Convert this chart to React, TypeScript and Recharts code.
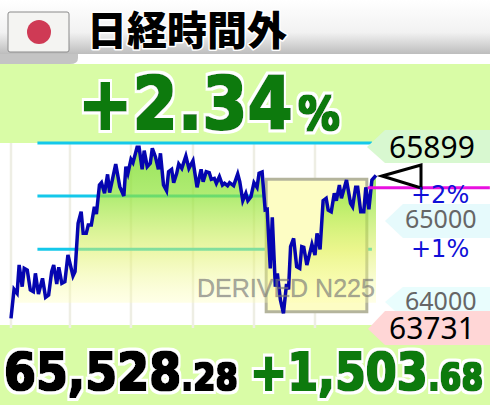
import { ComposedChart, Area, XAxis, YAxis, ReferenceLine, ReferenceArea } from 'recharts';

const minutes = [
  0, 3, 6, 8, 11, 13, 16, 19, 22, 24, 27, 31, 34, 37, 40, 42, 45, 47, 50, 53, 56, 58, 61, 63, 66, 69, 71, 74, 76, 79,
  82, 84, 87, 89, 92, 95, 97, 100, 103, 107, 111, 113, 115, 118, 120, 124, 126, 129, 131, 134, 137, 139, 142, 145, 147, 150, 153, 155, 158, 160,
  163, 165, 168, 172, 175, 179, 183, 187, 189, 192, 195, 197, 200, 202, 205, 208, 210, 213, 215, 219, 223, 225, 228, 231, 233, 236, 239, 242, 244, 247,
  250, 252, 255, 257, 260, 262, 265, 268, 271, 273, 275, 278, 281, 284, 286, 288, 291, 296, 299, 301, 304, 307, 310, 312, 315, 318, 320, 323, 325, 330,
  334, 336, 339, 341, 344, 347, 349, 352, 355, 359,
];
const prices = [
  63840, 64188, 64140, 64480, 64220, 64440, 64420, 64180, 64160, 64380, 64132, 64320, 64092, 64120, 64400, 64480, 64252, 64452, 64260, 64280, 64600, 64500, 64348, 64400, 64980, 65120, 64860, 64860, 64960, 64960,
  65180, 65092, 65440, 65468, 65340, 65568, 65348, 65520, 65692, 65420, 65308, 65660, 65580, 65748, 65708, 65892, 65892, 65628, 65852, 65660, 65700, 65880, 65780, 65628, 65820, 65440, 65372, 65600, 65628, 65468,
  65580, 65692, 65640, 65788, 65640, 65732, 65412, 65628, 65480, 65600, 65588, 65508, 65520, 65460, 65540, 65440, 65460, 65432, 65468, 65432, 65572, 65480, 65252, 65340, 65252, 65300, 65468, 65412, 65580, 65596,
  65140, 65148, 64440, 65052, 64220, 64380, 64060, 63900, 64252, 64188, 64700, 64800, 64460, 64440, 64700, 64692, 64480, 64728, 64600, 64860, 64668, 65252, 65280, 65140, 65120, 65340, 65252, 65440, 65280, 65500,
  65220, 65180, 65412, 65412, 65120, 65120, 65412, 65148, 65500, 65556,
];
const percentLevels = [65944, 65308, 64668];
const prevClose = 64028;
const currentLevel = 65408;
const gridMinutes = [0, 58, 118, 179, 239, 299];
const highlight = { x1: 251, x2: 350, y1: 65508, y2: 63920 };

const rows = minutes.map((m, i) => ({ m, price: prices[i] }));

const outline = { paintOrder: 'stroke', stroke: '#fff', strokeLinejoin: 'round' } as const;
const labelFont = '"Noto Sans", sans-serif';
const plainFont = '"DejaVu Sans", sans-serif';
const GREEN = '#0a7a0a';

function Heavy({ x, y, size, sx, fill, children }: { x: number; y: number; size: number; sx: number; fill: string; children: string }) {
  return (
    <text
      transform={`translate(${x} ${y}) scale(${sx} 1)`}
      fontFamily={plainFont}
      fontWeight={700}
      fontSize={size}
      fill={fill}
      filter="url(#heavy)"
    >
      {children}
    </text>
  );
}

export default function App() {
  return (
    <div style={{ position: 'absolute', left: 0, top: 0, width: 490, height: 405, overflow: 'hidden', background: '#d9fca6' }}>
      <div style={{ position: 'absolute', left: 0, top: 143, width: 490, height: 182, background: '#fff' }} />
      <div style={{ position: 'absolute', left: 0, top: 0 }}>
        <ComposedChart width={490} height={405} data={rows} margin={{ top: 0, right: 0, bottom: 0, left: 0 }}>
          <defs>
            <linearGradient id="priceFill" gradientUnits="userSpaceOnUse" x1="0" y1="147" x2="0" y2="303">
              <stop offset="0%" stopColor="#7cdc30" stopOpacity={0.8} />
              <stop offset="32%" stopColor="#90e438" stopOpacity={0.7} />
              <stop offset="66%" stopColor="#dcf060" stopOpacity={0.55} />
              <stop offset="100%" stopColor="#ffffb0" stopOpacity={0.3} />
            </linearGradient>
          </defs>
          <XAxis type="number" dataKey="m" domain={[-10.82, 471.15]} hide />
          <YAxis type="number" domain={[62800, 67660]} hide />
          {gridMinutes.map((m) => (
            <ReferenceLine key={m} zIndex={-20} segment={[{ x: m, y: 65944 }, { x: m, y: 63724 }]} stroke="#eeeee4" strokeWidth={2.5} />
          ))}
          {percentLevels.map((v) => (
            <ReferenceLine key={v} zIndex={-10} segment={[{ x: 26, y: v }, { x: 355, y: v }]} stroke="#14c8ea" strokeWidth={3} />
          ))}
          <ReferenceArea {...highlight} zIndex={50} fill="#fdfdc4" fillOpacity={1} stroke="#b4b49c" strokeWidth={3} />
          <Area
            type="linear"
            dataKey="price"
            baseValue={prevClose}
            stroke="#0505b0"
            strokeWidth={3.5}
            fill="url(#priceFill)"
            fillOpacity={1}
            dot={false}
            isAnimationActive={false}
          />
          <ReferenceLine segment={[{ x: -11, y: prevClose }, { x: 350, y: prevClose }]} stroke="#f00000" strokeWidth={3} />
          <ReferenceLine segment={[{ x: 351, y: currentLevel }, { x: 471, y: currentLevel }]} stroke="#e810e0" strokeWidth={3} />
        </ComposedChart>
      </div>
      <svg width={490} height={405} style={{ position: 'absolute', left: 0, top: 0 }}>
        <defs>
          <linearGradient id="headBar" x1="0" y1="0" x2="0" y2="1">
            <stop offset="0%" stopColor="#ffffff" />
            <stop offset="60%" stopColor="#f2f2f2" />
            <stop offset="100%" stopColor="#bdbdbd" />
          </linearGradient>
          <filter id="heavy" x="-15%" y="-25%" width="130%" height="150%">
            <feMorphology in="SourceGraphic" operator="dilate" radius="0.9" result="fat" />
            <feMorphology in="SourceAlpha" operator="dilate" radius="3.6" result="wide" />
            <feGaussianBlur in="wide" stdDeviation="0.6" result="soft" />
            <feFlood floodColor="#fff" result="white" />
            <feComposite in="white" in2="soft" operator="in" result="halo" />
            <feMerge>
              <feMergeNode in="halo" />
              <feMergeNode in="fat" />
            </feMerge>
          </filter>
        </defs>
        <rect x={0} y={0} width={490} height={64} fill="#fff" />
        <rect x={0} y={0} width={490} height={54} fill="url(#headBar)" />
        <path d="M0 54H78V58Q78 64 70 64H0Z" fill="#c4c4c4" />
        <rect x={8} y={12} width={61} height={40} rx={2} fill="#f4f4f2" stroke="#8a8a8a" strokeWidth={1} />
        <circle cx={39} cy={32} r={12} fill="#cf3a55" />
        <text x={87} y={45} fontFamily='"Noto Sans CJK JP", sans-serif' fontWeight={900} fontSize={40} strokeWidth={3} fill="#000" style={outline}>日経時間外</text>

        <Heavy x={78} y={129} size={73} sx={0.89} fill={GREEN}>+2.34</Heavy>
        <Heavy x={298} y={130} size={46} sx={0.91} fill={GREEN}>%</Heavy>

        <path d="M367 147L385 130H490V163H385Z" fill="#d8f8d0" />
        <path d="M385 221L403 204H490V238H403Z" fill="#e6fafc" />
        <path d="M385 302L403 287H490V318H403Z" fill="#e9fdfd" />
        <path d="M368 329L385 311H490V345H385Z" fill="#ffd6d6" />

        <path d="M382 176L421 165V188Z" fill="#fff" stroke="#000" strokeWidth={3} strokeLinejoin="miter" />

        <text x={389} y={158} fontFamily={labelFont} fontSize={30} fill="#000">65899</text>
        <text x={405} y={228} fontFamily={labelFont} fontSize={25} fill="#666">65000</text>
        <text x={405} y={310} fontFamily={labelFont} fontSize={25} fill="#666">64000</text>
        <text x={389} y={339} fontFamily={labelFont} fontSize={30} fill="#000">63731</text>
        <text x={411} y={203} fontFamily={plainFont} fontSize={24} fill="#1010d8">+2%</text>
        <text x={411} y={257} fontFamily={plainFont} fontSize={24} fill="#1010d8">+1%</text>

        <text x={197} y={297} fontFamily='"Liberation Sans", sans-serif' fontSize={25} fill="#777" fillOpacity={0.65} stroke="#777" strokeOpacity={0.4} strokeWidth={0.5}>DERIVED N225</text>

        <Heavy x={4} y={390} size={51} sx={0.9} fill="#000">65,528</Heavy>
        <Heavy x={181} y={390} size={37} sx={0.87} fill="#000">.28</Heavy>
        <Heavy x={250} y={390} size={51} sx={0.87} fill={GREEN}>+1,503</Heavy>
        <Heavy x={428} y={390} size={37} sx={0.84} fill={GREEN}>.68</Heavy>
      </svg>
    </div>
  );
}
